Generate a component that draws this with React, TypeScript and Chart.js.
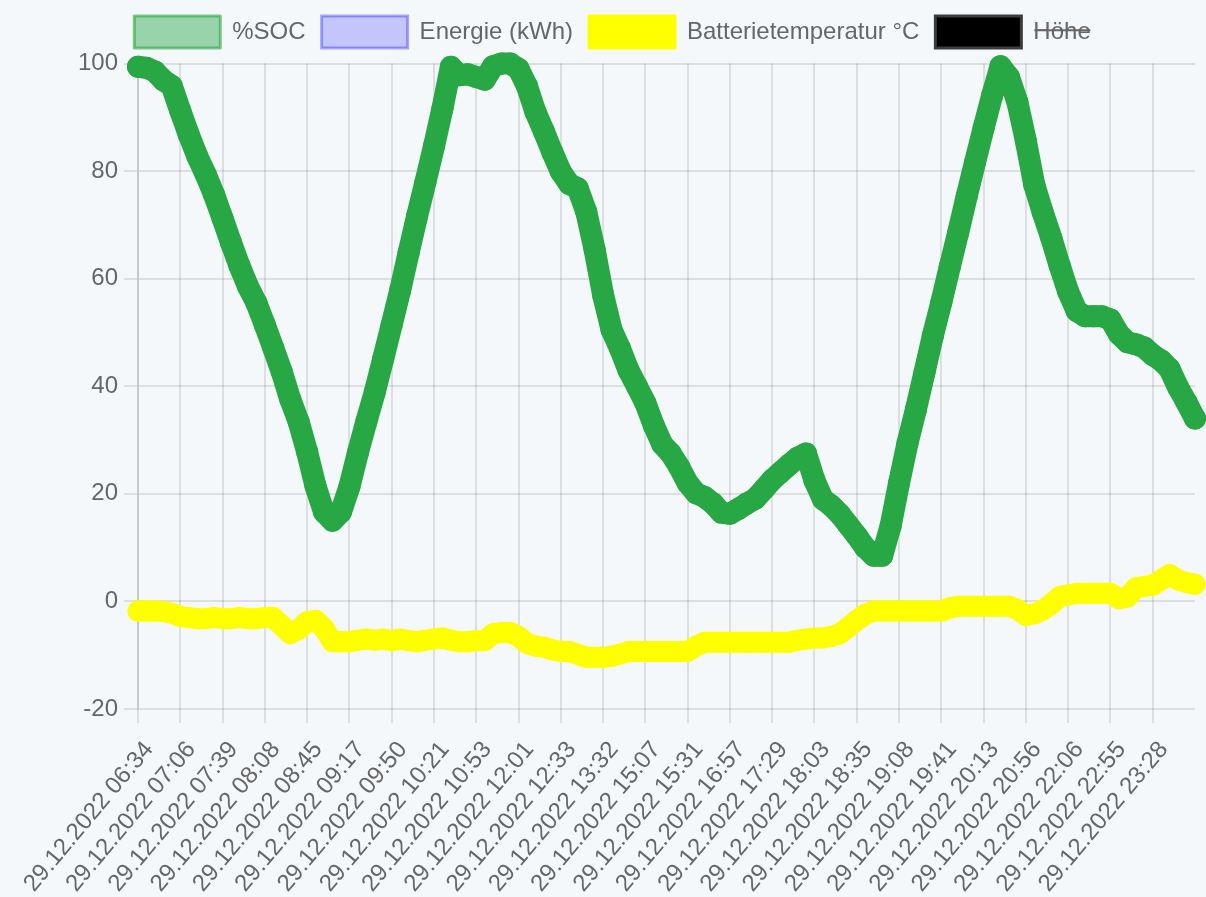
import React, { useEffect, useRef } from 'react';
import { Chart, registerables } from 'chart.js';

Chart.register(...registerables);

const tickLabels = [
  '29.12.2022 06:34', '29.12.2022 07:06', '29.12.2022 07:39', '29.12.2022 08:08', '29.12.2022 08:45',
  '29.12.2022 09:17', '29.12.2022 09:50', '29.12.2022 10:21', '29.12.2022 10:53', '29.12.2022 12:01',
  '29.12.2022 12:33', '29.12.2022 13:32', '29.12.2022 15:07', '29.12.2022 15:31', '29.12.2022 16:57',
  '29.12.2022 17:29', '29.12.2022 18:03', '29.12.2022 18:35', '29.12.2022 19:08', '29.12.2022 19:41',
  '29.12.2022 20:13', '29.12.2022 20:56', '29.12.2022 22:06', '29.12.2022 22:55', '29.12.2022 23:28',
];

// samples between two labelled times (the in-between samples carry no visible label)
const SAMPLES_PER_LABEL = 5;
const categories: string[] = tickLabels
  .flatMap((t) => [t, ...Array(SAMPLES_PER_LABEL - 1).fill('')])
  .concat(['']);

const socValues = [
  99.4, 99.2, 98.5, 96.9, 95.8, 91.2, 86.8, 82.8, 79.4, 75.6,
  71.2, 66.7, 62.4, 58.6, 55.5, 51.4, 47.1, 42.7, 37.6, 33.4,
  27.8, 21.4, 16.6, 15.0, 16.6, 21.3, 27.6, 33.4, 38.9, 45.1,
  51.4, 57.8, 64.8, 71.6, 78.0, 84.6, 91.6, 99.4, 97.8, 98.0,
  97.5, 97.0, 99.5, 100, 100, 99.0, 95.8, 91.0, 87.4, 83.5,
  79.9, 77.6, 76.8, 72.5, 65.4, 57.0, 50.5, 47.0, 43.0, 40.0,
  36.9, 32.7, 29.2, 27.5, 25.0, 22.0, 20.1, 19.4, 18.2, 16.5,
  16.3, 17.2, 18.2, 19.1, 20.8, 22.6, 24.0, 25.4, 26.7, 27.5,
  22.5, 19.0, 17.8, 16.2, 14.2, 12.2, 10.0, 8.5, 8.5, 14.0,
  22.0, 29.4, 35.7, 42.5, 49.4, 55.6, 62.2, 68.6, 75.3, 81.7,
  88.0, 94.0, 99.5, 97.5, 92.8, 85.6, 77.4, 72.3, 67.6, 62.4,
  57.6, 54.0, 53.0, 53.0, 53.0, 52.4, 49.7, 48.2, 47.8, 47.2,
  45.8, 44.8, 43.2, 39.8, 37.0, 34.0,
];

const energyValues: number[] = [];

const tempValues = [
  -1.8, -1.8, -1.8, -1.9, -2.2, -2.8, -3.0, -3.2, -3.2, -3.0,
  -3.2, -3.2, -3.0, -3.2, -3.2, -3.0, -3.0, -4.5, -6.0, -5.2,
  -3.8, -3.5, -5.0, -7.5, -7.5, -7.5, -7.2, -7.0, -7.2, -7.0,
  -7.3, -7.0, -7.3, -7.5, -7.2, -7.0, -6.8, -7.2, -7.5, -7.5,
  -7.3, -7.3, -6.0, -5.8, -5.8, -6.5, -7.8, -8.3, -8.5, -9.0,
  -9.3, -9.3, -9.8, -10.4, -10.4, -10.4, -10.2, -9.8, -9.3, -9.3,
  -9.3, -9.3, -9.3, -9.3, -9.3, -9.3, -8.3, -7.6, -7.6, -7.6,
  -7.6, -7.6, -7.6, -7.6, -7.6, -7.6, -7.6, -7.6, -7.2, -7.0,
  -6.8, -6.8, -6.5, -6.0, -4.8, -3.5, -2.4, -1.8, -1.8, -1.8,
  -1.8, -1.8, -1.8, -1.8, -1.8, -1.8, -1.2, -0.9, -0.9, -0.9,
  -0.9, -0.9, -0.9, -0.9, -1.5, -2.6, -2.3, -1.6, -0.5, 0.9,
  1.2, 1.5, 1.5, 1.5, 1.5, 1.5, 0.5, 0.8, 2.5, 2.8,
  3.0, 4.0, 5.0, 4.0, 3.5, 3.2,
];

const heightValues: number[] = [];

const yTicksMin = -20;
const yTicksMax = 100;
const yTicksStep = 20;

const legendFill = ['rgba(40,167,69,0.45)', 'rgba(0,0,255,0.2)', '#ffff00', '#000000'];
const legendStroke = ['rgba(40,167,69,0.6)', 'rgba(0,0,255,0.33)', '#ffff00', 'rgba(60,60,60,1)'];

const W = 1206;
const H = 897;
const FONT = "'Liberation Sans', Arial, Helvetica, sans-serif";
const GRID = 'rgba(0,0,0,0.1)';
const LEGEND_HEIGHT = 63.5;

const legendHeightPlugin = {
  id: 'legendHeight',
  beforeLayout(chart: any) {
    const lg = chart.legend;
    if (lg && !lg.__patched) {
      const orig = lg.fit;
      lg.fit = function (this: any) {
        orig.call(this);
        this.height = LEGEND_HEIGHT;
      };
      lg.__patched = true;
    }
  },
};

export default function App() {
  const ref = useRef<HTMLCanvasElement | null>(null);

  useEffect(() => {
    if (!ref.current) return;
    Chart.defaults.font.family = FONT;
    Chart.defaults.font.size = 24;
    Chart.defaults.color = '#666';

    const chart = new Chart(ref.current, {
      type: 'line',
      data: {
        labels: categories,
        datasets: [
          {
            label: '%SOC',
            data: socValues,
            borderColor: '#28a745',
            backgroundColor: '#28a745',
            borderWidth: 22,
            pointRadius: 11,
            pointBorderWidth: 0,
            pointBackgroundColor: '#28a745',
            borderJoinStyle: 'round',
            borderCapStyle: 'round',
            tension: 0,
            fill: false,
            clip: false,
          },
          {
            label: 'Energie (kWh)',
            data: energyValues,
            borderColor: 'rgba(0,0,255,0.33)',
            backgroundColor: 'rgba(0,0,255,0.2)',
            borderWidth: 3,
            pointRadius: 0,
            fill: false,
          },
          {
            label: 'Batterietemperatur °C',
            data: tempValues,
            borderColor: '#ffff00',
            backgroundColor: '#ffff00',
            borderWidth: 21,
            pointRadius: 10.5,
            pointBorderWidth: 0,
            pointBackgroundColor: '#ffff00',
            borderJoinStyle: 'round',
            borderCapStyle: 'round',
            tension: 0,
            fill: false,
            clip: false,
          },
          {
            label: 'Höhe',
            data: heightValues,
            borderColor: '#000',
            backgroundColor: '#000',
            borderWidth: 3,
            pointRadius: 0,
            hidden: true,
            fill: false,
          },
        ],
      },
      plugins: [legendHeightPlugin],
      options: {
        responsive: false,
        animation: false,
        devicePixelRatio: 1,
        layout: { padding: { left: 25, right: 6, top: 0, bottom: 0 } },
        plugins: {
          tooltip: { enabled: false },
          legend: {
            display: true,
            position: 'top',
            labels: {
              boxWidth: 86,
              boxHeight: 32,
              padding: 16,
              color: '#666',
              font: { family: FONT, size: 24 },
              generateLabels: (c: any) => {
                const items = Chart.defaults.plugins.legend.labels.generateLabels(c);
                items.forEach((it: any, i: number) => {
                  it.fillStyle = legendFill[i];
                  it.strokeStyle = legendStroke[i];
                  it.lineWidth = 3;
                  it.fontColor = '#666';
                });
                return items;
              },
            },
          },
        },
        scales: {
          x: {
            type: 'category',
            offset: false,
            afterFit: (s: any) => {
              s.height = 188;
              s.paddingLeft = 0;
              s.paddingRight = 0;
            },
            grid: {
              color: (ctx: any) => (categories[ctx.index] ? GRID : 'rgba(0,0,0,0)'),
              lineWidth: 2,
              tickLength: 14,
            },
            border: { display: false },
            ticks: {
              autoSkip: false,
              minRotation: 50,
              maxRotation: 50,
              padding: 13,
              labelOffset: 11,
              color: '#666',
              font: { family: FONT, size: 24 },
              callback: (_v: any, i: number) => categories[i],
            },
          },
          y: {
            min: yTicksMin,
            max: yTicksMax,
            afterFit: (s: any) => {
              s.width = 113;
            },
            grid: { color: GRID, lineWidth: 2, tickLength: 14 },
            border: { display: true, color: GRID, width: 2 },
            ticks: {
              stepSize: yTicksStep,
              padding: 6,
              color: '#666',
              font: { family: FONT, size: 24 },
            },
          },
        },
      },
    } as any);
    return () => chart.destroy();
  }, []);

  return (
    <div
      style={{
        position: 'fixed',
        left: 0,
        top: 0,
        width: W,
        height: H,
        background: '#f5f8fb',
        overflow: 'hidden',
      }}
    >
      <canvas ref={ref} width={W} height={H} style={{ width: W, height: H, display: 'block' }} />
    </div>
  );
}
